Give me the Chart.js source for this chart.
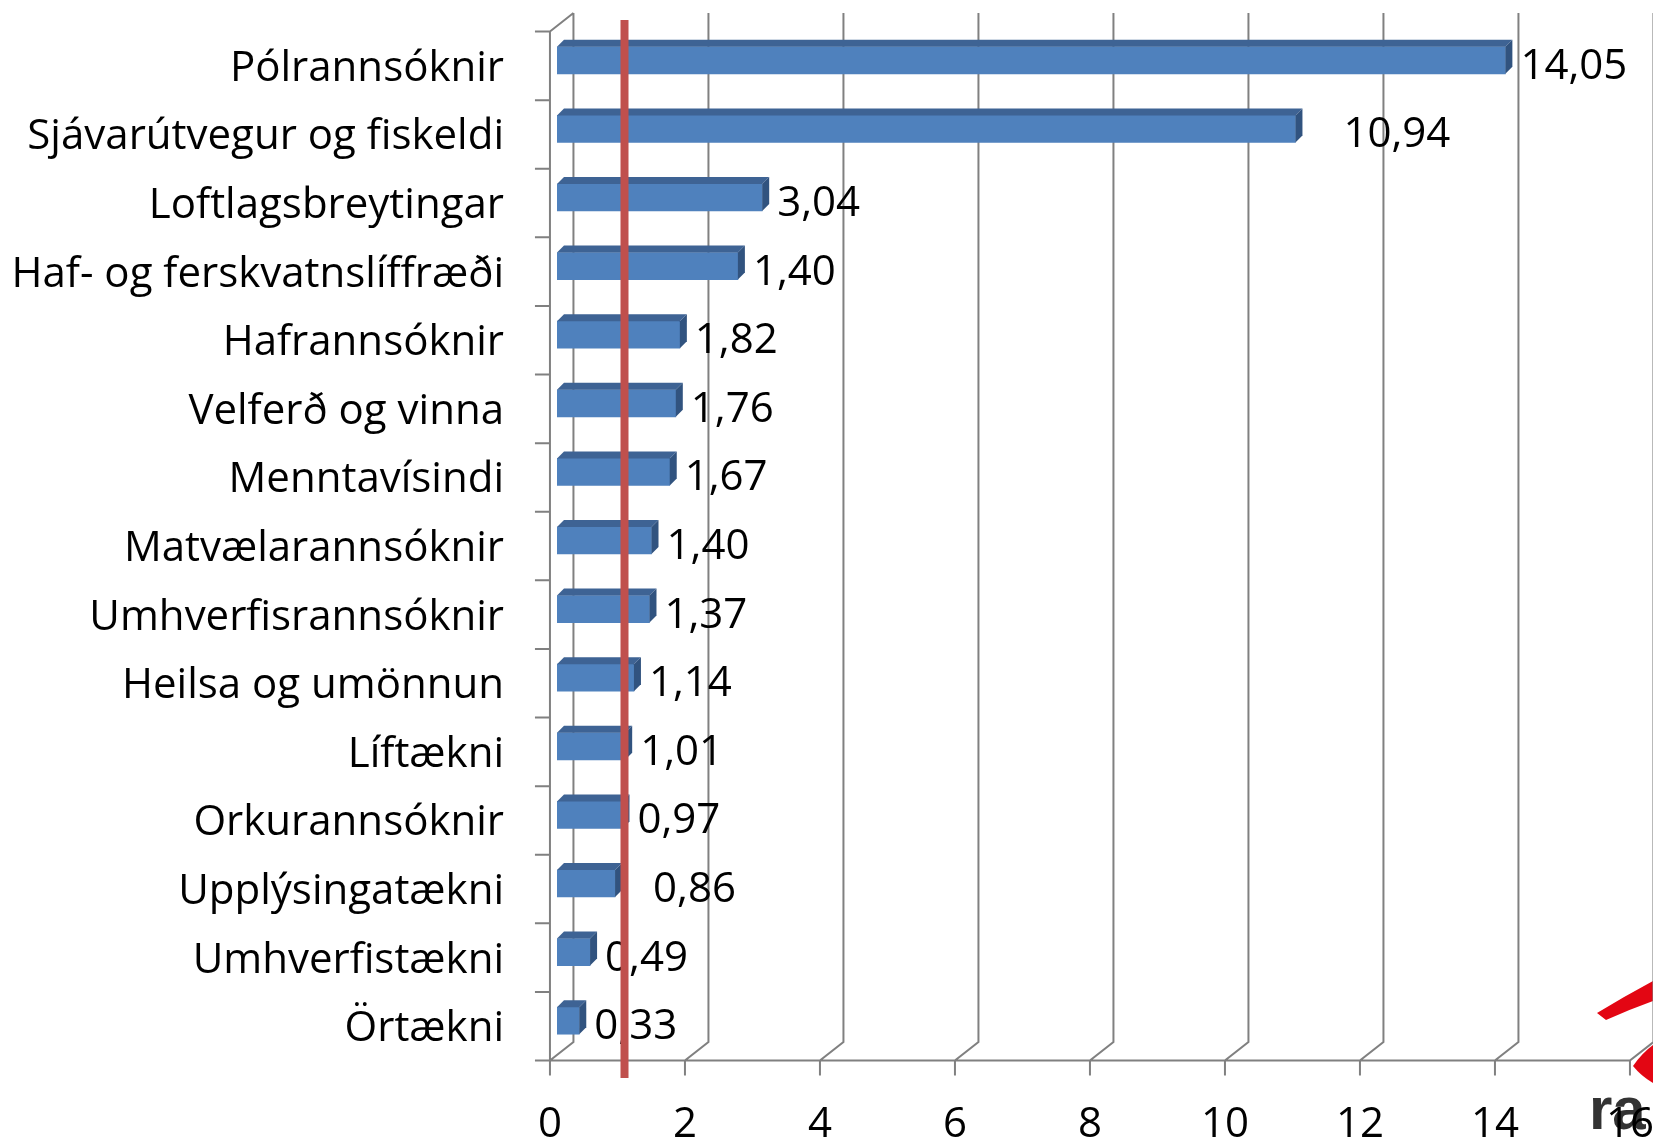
<!DOCTYPE html>
<html>
<head>
<meta charset="utf-8">
<script src="https://cdn.jsdelivr.net/npm/chart.js@4.4.1/dist/chart.umd.min.js"></script>
<style>
  html, body { margin: 0; padding: 0; background: #fff; }
  canvas { display: block; }
</style>
</head>
<body>
<canvas id="chart" width="1653" height="1141"></canvas>
<script>
// ---- data ----
const categories = [
  'Pólrannsóknir', 'Sjávarútvegur og fiskeldi', 'Loftlagsbreytingar',
  'Haf- og ferskvatnslíffræði', 'Hafrannsóknir', 'Velferð og vinna',
  'Menntavísindi', 'Matvælarannsóknir', 'Umhverfisrannsóknir',
  'Heilsa og umönnun', 'Líftækni', 'Orkurannsóknir',
  'Upplýsingatækni', 'Umhverfistækni', 'Örtækni'
];
// bar lengths as drawn (the 4th bar is drawn longer than its printed label)
const values = [14.05, 10.94, 3.04, 2.68, 1.82, 1.76, 1.67, 1.40, 1.37, 1.14, 1.01, 0.97, 0.86, 0.49, 0.33];
const valueLabels = ['14,05', '10,94', '3,04', '1,40', '1,82', '1,76', '1,67', '1,40', '1,37', '1,14', '1,01', '0,97', '0,86', '0,49', '0,33'];
const xMin = 0, xMax = 16, xStep = 2;
const refValue = 1;   // red reference line

// ---- look ----
const FONT = '"Open Sans"';
const FONT_SIZE = 42;
const GRID = '#808080';
const BAR = '#4f81bd';
const BAR_TOP = '#3e6394';
const BAR_SIDE = '#31537f';
const RED = '#c0504d';
const DEPTH = { x: 23.5, y: -18.5 };  // wall depth
const FRONT = 0.3;                     // bars sit 30% into the depth
const BOX = { x: 7, y: -7 };           // bar depth

const noPad = s => {
  s.paddingTop = 0; s.paddingBottom = 0;
  s.paddingLeft = 0; s.paddingRight = 0;
};

const wall3d = {
  id: 'wall3d',
  beforeDraw(chart) {
    // corner logo, sits under the axis labels
    const { ctx } = chart;
    ctx.save();
    ctx.fillStyle = '#e30613';
    ctx.beginPath();
    ctx.moveTo(1597, 1013);
    ctx.quadraticCurveTo(1625, 996, 1653, 981);
    ctx.lineTo(1653, 1001);
    ctx.quadraticCurveTo(1628, 1010, 1606, 1020);
    ctx.closePath();
    ctx.fill();
    ctx.beginPath();
    ctx.moveTo(1633, 1066);
    ctx.quadraticCurveTo(1642, 1053, 1653, 1045);
    ctx.lineTo(1653, 1083);
    ctx.quadraticCurveTo(1641, 1076, 1633, 1066);
    ctx.closePath();
    ctx.fill();
    ctx.fillStyle = '#333';
    ctx.font = 'bold 60px "Liberation Sans"';
    ctx.textAlign = 'left';
    ctx.textBaseline = 'alphabetic';
    ctx.fillText('ra', 1589, 1129);
    ctx.restore();
  },
  beforeDatasetsDraw(chart) {
    const { ctx, chartArea: a, scales: { x } } = chart;
    const fx = -FRONT * DEPTH.x, fy = -FRONT * DEPTH.y;
    const bx = (1 - FRONT) * DEPTH.x, by = (1 - FRONT) * DEPTH.y;
    const fTop = a.top + fy, fBot = a.bottom + fy;
    const bTop = a.top + by, bBot = a.bottom + by;
    const x0 = x.getPixelForValue(xMin);
    const xEnd = x.getPixelForValue(xMax);

    ctx.save();
    ctx.strokeStyle = GRID;
    ctx.lineWidth = 2;
    ctx.beginPath();
    // left wall
    ctx.moveTo(x0 + fx, fTop); ctx.lineTo(x0 + fx, fBot);
    ctx.moveTo(x0 + fx, fTop); ctx.lineTo(x0 + bx, bTop);
    // category ticks
    const band = (fBot - fTop) / categories.length;
    for (let k = 0; k <= categories.length; k++) {
      const yy = fTop + k * band;
      ctx.moveTo(x0 + fx - 15, yy); ctx.lineTo(x0 + fx, yy);
    }
    // floor front edge
    ctx.moveTo(x0 + fx, fBot); ctx.lineTo(xEnd + fx, fBot);
    // back gridlines + floor diagonals + ticks
    x.ticks.forEach(t => {
      const px = x.getPixelForValue(t.value);
      ctx.moveTo(px + bx, bTop);
      ctx.lineTo(px + bx, bBot);
      ctx.lineTo(px + fx, fBot);
      ctx.lineTo(px + fx, fBot + 15);
    });
    ctx.stroke();
    ctx.restore();
  },
  afterDatasetsDraw(chart) {
    const { ctx } = chart;
    const meta = chart.getDatasetMeta(0);
    ctx.save();
    meta.data.forEach(bar => {
      const p = bar.getProps(['x', 'y', 'base', 'height'], true);
      const t = p.y - p.height / 2, b = p.y + p.height / 2;
      ctx.fillStyle = BAR_TOP;
      ctx.beginPath();
      ctx.moveTo(p.base, t);
      ctx.lineTo(p.base + BOX.x, t + BOX.y);
      ctx.lineTo(p.x + BOX.x, t + BOX.y);
      ctx.lineTo(p.x, t);
      ctx.closePath();
      ctx.fill();
      ctx.fillStyle = BAR_SIDE;
      ctx.beginPath();
      ctx.moveTo(p.x, t);
      ctx.lineTo(p.x + BOX.x, t + BOX.y);
      ctx.lineTo(p.x + BOX.x, b + BOX.y);
      ctx.lineTo(p.x, b);
      ctx.closePath();
      ctx.fill();
    });
    ctx.restore();
  }
};

const overlay = {
  id: 'overlay',
  afterDraw(chart, args, opts) {
    const { ctx, chartArea: a, scales: { x } } = chart;
    const meta = chart.getDatasetMeta(0);
    ctx.save();
    // value labels
    ctx.font = `${FONT_SIZE}px ${FONT}`;
    ctx.fillStyle = '#000';
    ctx.textAlign = 'left';
    ctx.textBaseline = 'alphabetic';
    meta.data.forEach((bar, i) => {
      const shift = opts.labelShift[i] || 0;
      ctx.fillText(valueLabels[i], bar.x + 15 + shift, bar.y + 18.5);
    });
    // red reference line
    const rx = x.getPixelForValue(refValue);
    ctx.strokeStyle = RED;
    ctx.lineWidth = 8;
    ctx.beginPath();
    ctx.moveTo(rx, a.top - 6);
    ctx.lineTo(rx, a.bottom + 23);
    ctx.stroke();
    ctx.restore();
  }
};

new Chart(document.getElementById('chart'), {
  type: 'bar',
  data: {
    labels: categories,
    datasets: [{
      data: values,
      backgroundColor: BAR,
      borderWidth: 0,
      barThickness: 27,
    }]
  },
  options: {
    indexAxis: 'y',
    responsive: false,
    animation: false,
    layout: { padding: { top: 26, right: 16, bottom: 0, left: 0 } },
    plugins: {
      legend: { display: false },
      tooltip: { enabled: false },
      overlay: { labelShift: { 1: 33, 12: 23 } }
    },
    scales: {
      x: {
        min: xMin, max: xMax,
        grid: { display: false, drawTicks: false },
        border: { display: false },
        afterFit: s => { s.height = 86; noPad(s); },
        ticks: {
          stepSize: xStep,
          autoSkip: false,
          maxRotation: 0,
          padding: 45,
          labelOffset: -FRONT * DEPTH.x,
          color: '#000',
          font: { family: FONT, size: FONT_SIZE }
        }
      },
      y: {
        grid: { display: false, drawTicks: false },
        border: { display: false },
        afterFit: s => { s.width = 557; noPad(s); },
        ticks: {
          autoSkip: false,
          padding: 53,
          labelOffset: 8.5,
          color: '#000',
          font: { family: FONT, size: FONT_SIZE }
        }
      }
    }
  },
  plugins: [wall3d, overlay]
});
</script>
</body>
</html>
